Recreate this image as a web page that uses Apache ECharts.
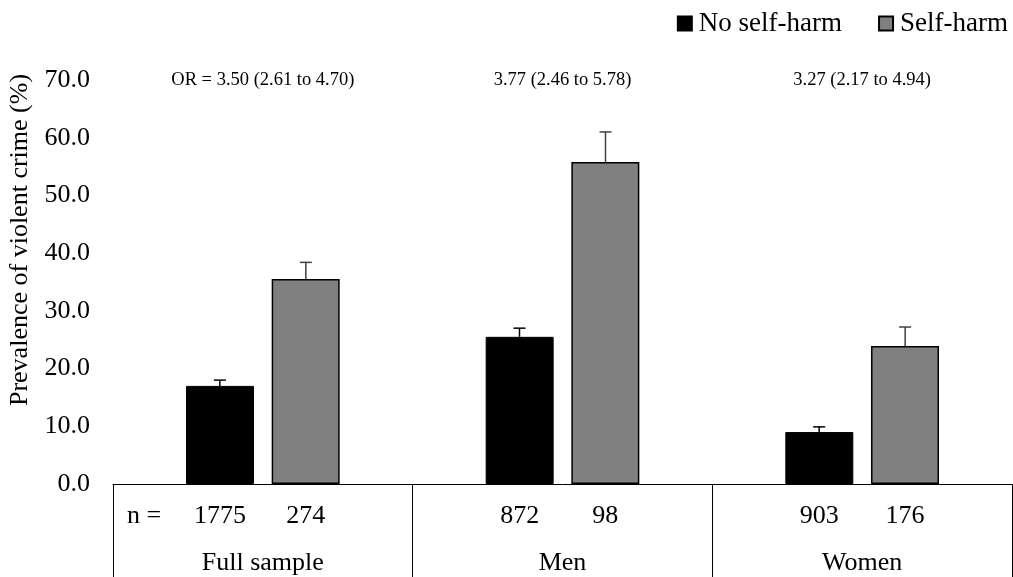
<!DOCTYPE html>
<html>
<head>
<meta charset="utf-8" />
<title>Prevalence of violent crime</title>
<script type="text/javascript" src="https://cdn.jsdelivr.net/npm/echarts@6/dist/echarts.min.js"></script>
</head>
<body style="margin:0;background-color:white;">
<div id="main" style="width:1013px;height:577px;background-color:white;"></div>
<script type="text/javascript">
    // 数据
    var categories = ['Full sample', 'Men', 'Women'];
    var orLabels = ['OR = 3.50 (2.61 to 4.70)', '3.77 (2.46 to 5.78)', '3.27 (2.17 to 4.94)'];
    var noSelfHarm = [17.0, 25.5, 9.0];
    var noSelfHarmUpper = [18.0, 27.0, 9.9];
    var selfHarm = [35.5, 55.8, 23.9];
    var selfHarmUpper = [38.4, 61.0, 27.2];
    var nNoSelfHarm = [1775, 872, 903];
    var nSelfHarm = [274, 98, 176];
    var yTicks = [0, 10, 20, 30, 40, 50, 60, 70];

    var FONT = '"Liberation Serif", "Times New Roman", serif';
    var BAR_W = 68;
    var OFFSET = 43; // 柱子中心到类目中心的距离

    function errorBar(upper, bars, side, color) {
        return {
            type: 'custom',
            silent: true,
            z: 3,
            data: upper.map(function (v, i) { return [i, bars[i], v]; }),
            renderItem: function (params, api) {
                var top = api.coord([api.value(0), api.value(2)]);
                var base = api.coord([api.value(0), api.value(1)]);
                var x = top[0] + side * OFFSET;
                var style = { stroke: color, lineWidth: 1.5 };
                return {
                    type: 'group',
                    children: [
                        { type: 'line', shape: { x1: x, y1: base[1], x2: x, y2: top[1] }, style: style },
                        { type: 'line', shape: { x1: x - 6, y1: top[1], x2: x + 6, y2: top[1] }, style: style }
                    ]
                };
            }
        };
    }

    var myChart = echarts.init(document.getElementById('main'));
    myChart.setOption({
        animation: false,
        textStyle: { fontFamily: FONT, color: '#000' },
        legend: {
            right: 0,
            top: 5,
            icon: 'rect',
            itemWidth: 14,
            itemHeight: 14,
            itemGap: 36,
            textStyle: { fontFamily: FONT, fontSize: 27, color: '#000', padding: [0, 0, 0, 2] },
            data: ['No self-harm', 'Self-harm']
        },
        grid: { left: 113, right: 1, top: 80, bottom: 93 },
        graphic: [
            {
                type: 'text', x: 20, y: 240, rotation: Math.PI / 2,
                style: { text: 'Prevalence of violent crime (%)', font: '26px ' + FONT, fill: '#000', align: 'center', verticalAlign: 'middle' }
            },
            {
                type: 'text', x: 127, y: 516,
                style: { text: 'n =', font: '26px ' + FONT, fill: '#000', align: 'left', verticalAlign: 'middle' }
            }
        ],
        xAxis: [
            {
                type: 'category',
                data: categories,
                axisLine: { lineStyle: { color: '#000', width: 1 } },
                axisTick: { show: true, length: 95, lineStyle: { color: '#000', width: 1 } },
                axisLabel: { margin: 66, fontSize: 26, fontFamily: FONT, color: '#000' }
            },
            {
                type: 'category',
                position: 'top',
                data: orLabels,
                axisLine: { show: false },
                axisTick: { show: false },
                axisLabel: { margin: 0, verticalAlign: 'middle', fontSize: 18.5, fontFamily: FONT, color: '#000' }
            }
        ],
        yAxis: {
            type: 'value',
            min: yTicks[0],
            max: yTicks[yTicks.length - 1],
            interval: 10,
            axisLine: { show: false },
            axisTick: { show: false },
            splitLine: { show: false },
            axisLabel: {
                margin: 23, fontSize: 26, fontFamily: FONT, color: '#000',
                formatter: function (v) { return v.toFixed(1); }
            }
        },
        series: [
            {
                name: 'No self-harm',
                type: 'bar',
                barWidth: BAR_W,
                barGap: '26%',
                data: noSelfHarm,
                itemStyle: { color: '#000', borderColor: '#000', borderWidth: 1 },
                label: {
                    show: true, position: 'bottom', distance: 19,
                    fontSize: 26, fontFamily: FONT, color: '#000',
                    formatter: function (p) { return nNoSelfHarm[p.dataIndex]; }
                }
            },
            {
                name: 'Self-harm',
                type: 'bar',
                barWidth: BAR_W,
                data: selfHarm,
                itemStyle: { color: '#808080', borderColor: '#000', borderWidth: 1.5 },
                label: {
                    show: true, position: 'bottom', distance: 19,
                    fontSize: 26, fontFamily: FONT, color: '#000',
                    formatter: function (p) { return nSelfHarm[p.dataIndex]; }
                }
            },
            errorBar(noSelfHarmUpper, noSelfHarm, -1, '#000'),
            errorBar(selfHarmUpper, selfHarm, 1, '#404040')
        ]
    });
</script>
</body>
</html>
